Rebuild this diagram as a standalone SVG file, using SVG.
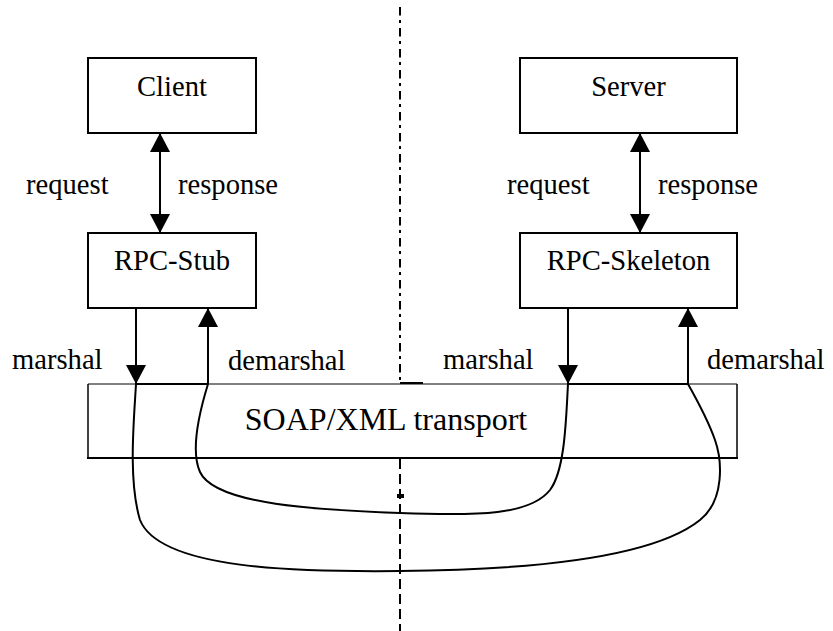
<svg xmlns="http://www.w3.org/2000/svg" width="833" height="631" viewBox="0 0 833 631">
  <style>
    .box { fill: #ffffff; stroke: #000000; stroke-width: 2; }
    .lbl { font-family: "Liberation Serif", "Times New Roman", serif; font-size: 28.6px; fill: #000000; }
    .mid { text-anchor: middle; }
    .ln { fill: none; stroke: #000000; stroke-width: 2; }
    .curve { fill: none; stroke: #000000; stroke-width: 2; }
  </style>
  <defs>
    <marker id="ah" viewBox="0 0 19 20" refX="19" refY="10" markerWidth="19" markerHeight="20" markerUnits="userSpaceOnUse" orient="auto-start-reverse">
      <path d="M0,0 L19,10 L0,20 z" fill="#000000"/>
    </marker>
  </defs>

  <!-- divider between client side and server side -->
  <g id="divider">
    <line x1="400" y1="7" x2="400" y2="383" stroke="#000" stroke-width="2" stroke-dasharray="8.5 4.5 3 5"/>
    <line x1="400" y1="383" x2="423" y2="383" stroke="#000" stroke-width="2"/>
    <line x1="400" y1="459" x2="400" y2="631" stroke="#000" stroke-width="2" stroke-dasharray="10 5"/>
    <rect x="397" y="494" width="7" height="4" fill="#000"/>
  </g>

  <!-- transport layer -->
  <g id="transport">
    <line x1="88" y1="384" x2="737" y2="384" stroke="#000" stroke-width="1"/>
    <line x1="88" y1="384" x2="88" y2="458" stroke="#000" stroke-width="1.5"/>
    <line x1="737" y1="384" x2="737" y2="458" stroke="#000" stroke-width="1.5"/>
    <line x1="87" y1="458" x2="738" y2="458" stroke="#000" stroke-width="2"/>
    <text class="lbl mid" x="386" y="430" style="font-size:32px">SOAP/XML transport</text>
  </g>

  <g id="client">
    <rect class="box" x="88" y="58" width="168" height="75"/>
    <text class="lbl mid" x="172" y="96">Client</text>
  </g>

  <g id="rpc-stub">
    <rect class="box" x="88" y="233" width="168" height="75"/>
    <text class="lbl mid" x="172" y="270">RPC-Stub</text>
  </g>

  <g id="server">
    <rect class="box" x="520" y="58" width="217" height="75"/>
    <text class="lbl mid" x="628.5" y="96">Server</text>
  </g>

  <g id="rpc-skeleton">
    <rect class="box" x="520" y="233" width="217" height="75"/>
    <text class="lbl mid" x="628.5" y="270">RPC-Skeleton</text>
  </g>

  <!-- connectors -->
  <g id="connectors">
    <line class="ln" x1="160" y1="133" x2="160" y2="233" marker-start="url(#ah)" marker-end="url(#ah)"/>
    <line class="ln" x1="640" y1="133" x2="640" y2="233" marker-start="url(#ah)" marker-end="url(#ah)"/>

    <line class="ln" x1="136" y1="308" x2="136" y2="384" marker-end="url(#ah)"/>
    <line class="ln" x1="208" y1="384" x2="208" y2="308" marker-end="url(#ah)"/>
    <line class="ln" x1="136" y1="384" x2="208" y2="384"/>

    <line class="ln" x1="568" y1="308" x2="568" y2="384" marker-end="url(#ah)"/>
    <line class="ln" x1="688" y1="384" x2="688" y2="308" marker-end="url(#ah)"/>
    <line class="ln" x1="568" y1="384" x2="688" y2="384"/>

    <!-- routes through the transport -->
    <path class="curve" d="M208,384 C200,410 190,450 200,472 C215,505 320,510 400,513 C480,516 530,515 550,490 C565,470 566,420 568,384"/>
    <path class="curve" d="M136,384 C134,420 128,480 140,520 C160,570 300,572 400,571 C520,570 650,560 700,520 C725,500 722,460 715,440 C708,420 697,400 688,384"/>
  </g>

  <!-- labels -->
  <g id="labels">
    <text class="lbl" x="26" y="194">request</text>
    <text class="lbl" x="178" y="194">response</text>
    <text class="lbl" x="507" y="194">request</text>
    <text class="lbl" x="658" y="194">response</text>
    <text class="lbl" x="12" y="369">marshal</text>
    <text class="lbl" x="228" y="370">demarshal</text>
    <text class="lbl" x="443" y="369">marshal</text>
    <text class="lbl" x="707" y="369">demarshal</text>
  </g>
</svg>
